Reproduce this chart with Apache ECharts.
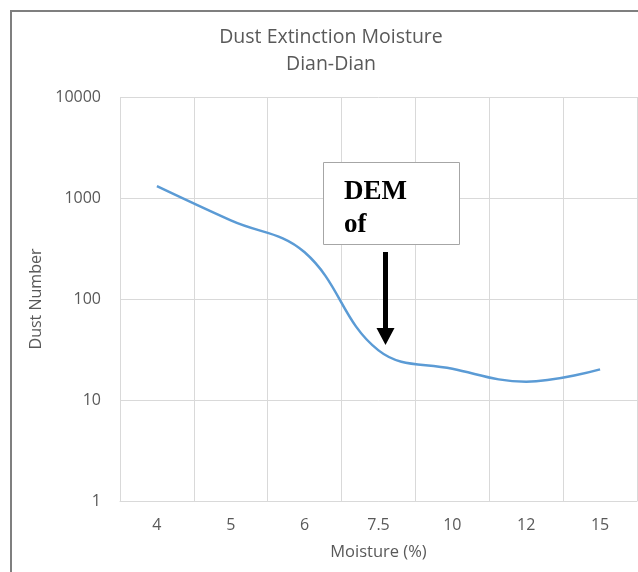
<!DOCTYPE html>
<html>
<head>
<meta charset="utf-8">
<script src="https://cdn.jsdelivr.net/npm/echarts@6/dist/echarts.min.js"></script>
<style>
html,body{margin:0;padding:0;background:#fff;}
#c{width:638px;height:572px;}
</style>
</head>
<body>
<div id="c"></div>
<script>
const categories = ['4', '5', '6', '7.5', '10', '12', '15'];
const dustNumber = [1310, 600, 290, 31, 20.4, 15.2, 20.1];
const yTicks = [1, 10, 100, 1000, 10000];

const chart = echarts.init(document.getElementById('c'));
const txt = '#595959';
const font = 'Open Sans';
chart.setOption({
  animation: false,
  backgroundColor: '#fff',
  title: {
    text: 'Dust Extinction Moisture\nDian-Dian',
    left: 331, top: 24, textAlign: 'center', padding: 0,
    textStyle: {fontFamily: font, fontSize: 19.5, fontWeight: 'normal', color: txt, lineHeight: 27}
  },
  grid: {left: 120, right: 1, top: 97, bottom: 71},
  xAxis: {
    type: 'category', data: categories, boundaryGap: true,
    name: 'Moisture (%)', nameLocation: 'middle', nameGap: 43,
    nameTextStyle: {fontFamily: font, fontSize: 16.5, color: txt},
    axisLine: {show: true, lineStyle: {color: '#d9d9d9'}},
    axisTick: {show: false},
    axisLabel: {fontFamily: font, fontSize: 16, color: txt, margin: 16},
    splitLine: {show: true, lineStyle: {color: '#d9d9d9'}}
  },
  yAxis: {
    type: 'log', logBase: 10, min: yTicks[0], max: yTicks[yTicks.length - 1],
    name: 'Dust Number', nameLocation: 'middle', nameGap: 70, nameRotate: 90,
    nameTextStyle: {fontFamily: font, fontSize: 16, color: txt},
    axisLine: {show: false}, axisTick: {show: false},
    axisLabel: {fontFamily: font, fontSize: 16, color: txt, margin: 19,
      formatter: function (v) { return String(Math.round(v)); }},
    splitLine: {show: true, lineStyle: {color: '#d9d9d9'}}
  },
  series: [{
    type: 'line', data: dustNumber, smooth: 0.4, showSymbol: false, symbol: 'none',
    lineStyle: {color: '#5b9bd5', width: 2.5}
  }],
  graphic: [
    {type: 'rect', shape: {x: 11, y: 11, width: 700, height: 700},
     style: {fill: 'none', stroke: '#7f7f7f', lineWidth: 2}, z: 100},
    {type: 'rect', shape: {x: 323.5, y: 162.5, width: 136, height: 82},
     style: {fill: '#fff', stroke: '#a6a6a6', lineWidth: 1}, z: 100},
    {type: 'text', x: 344, y: 176, style: {text: 'DEM\nof', fill: '#000',
      font: 'bold 27px "Liberation Serif"', lineHeight: 33}, z: 101},
    {type: 'line', shape: {x1: 385.5, y1: 252, x2: 385.5, y2: 330},
     style: {stroke: '#000', lineWidth: 5}, z: 100},
    {type: 'polygon', shape: {points: [[376.5, 328], [394.5, 328], [385.5, 345]]},
     style: {fill: '#000'}, z: 100}
  ]
});
</script>
</body>
</html>
